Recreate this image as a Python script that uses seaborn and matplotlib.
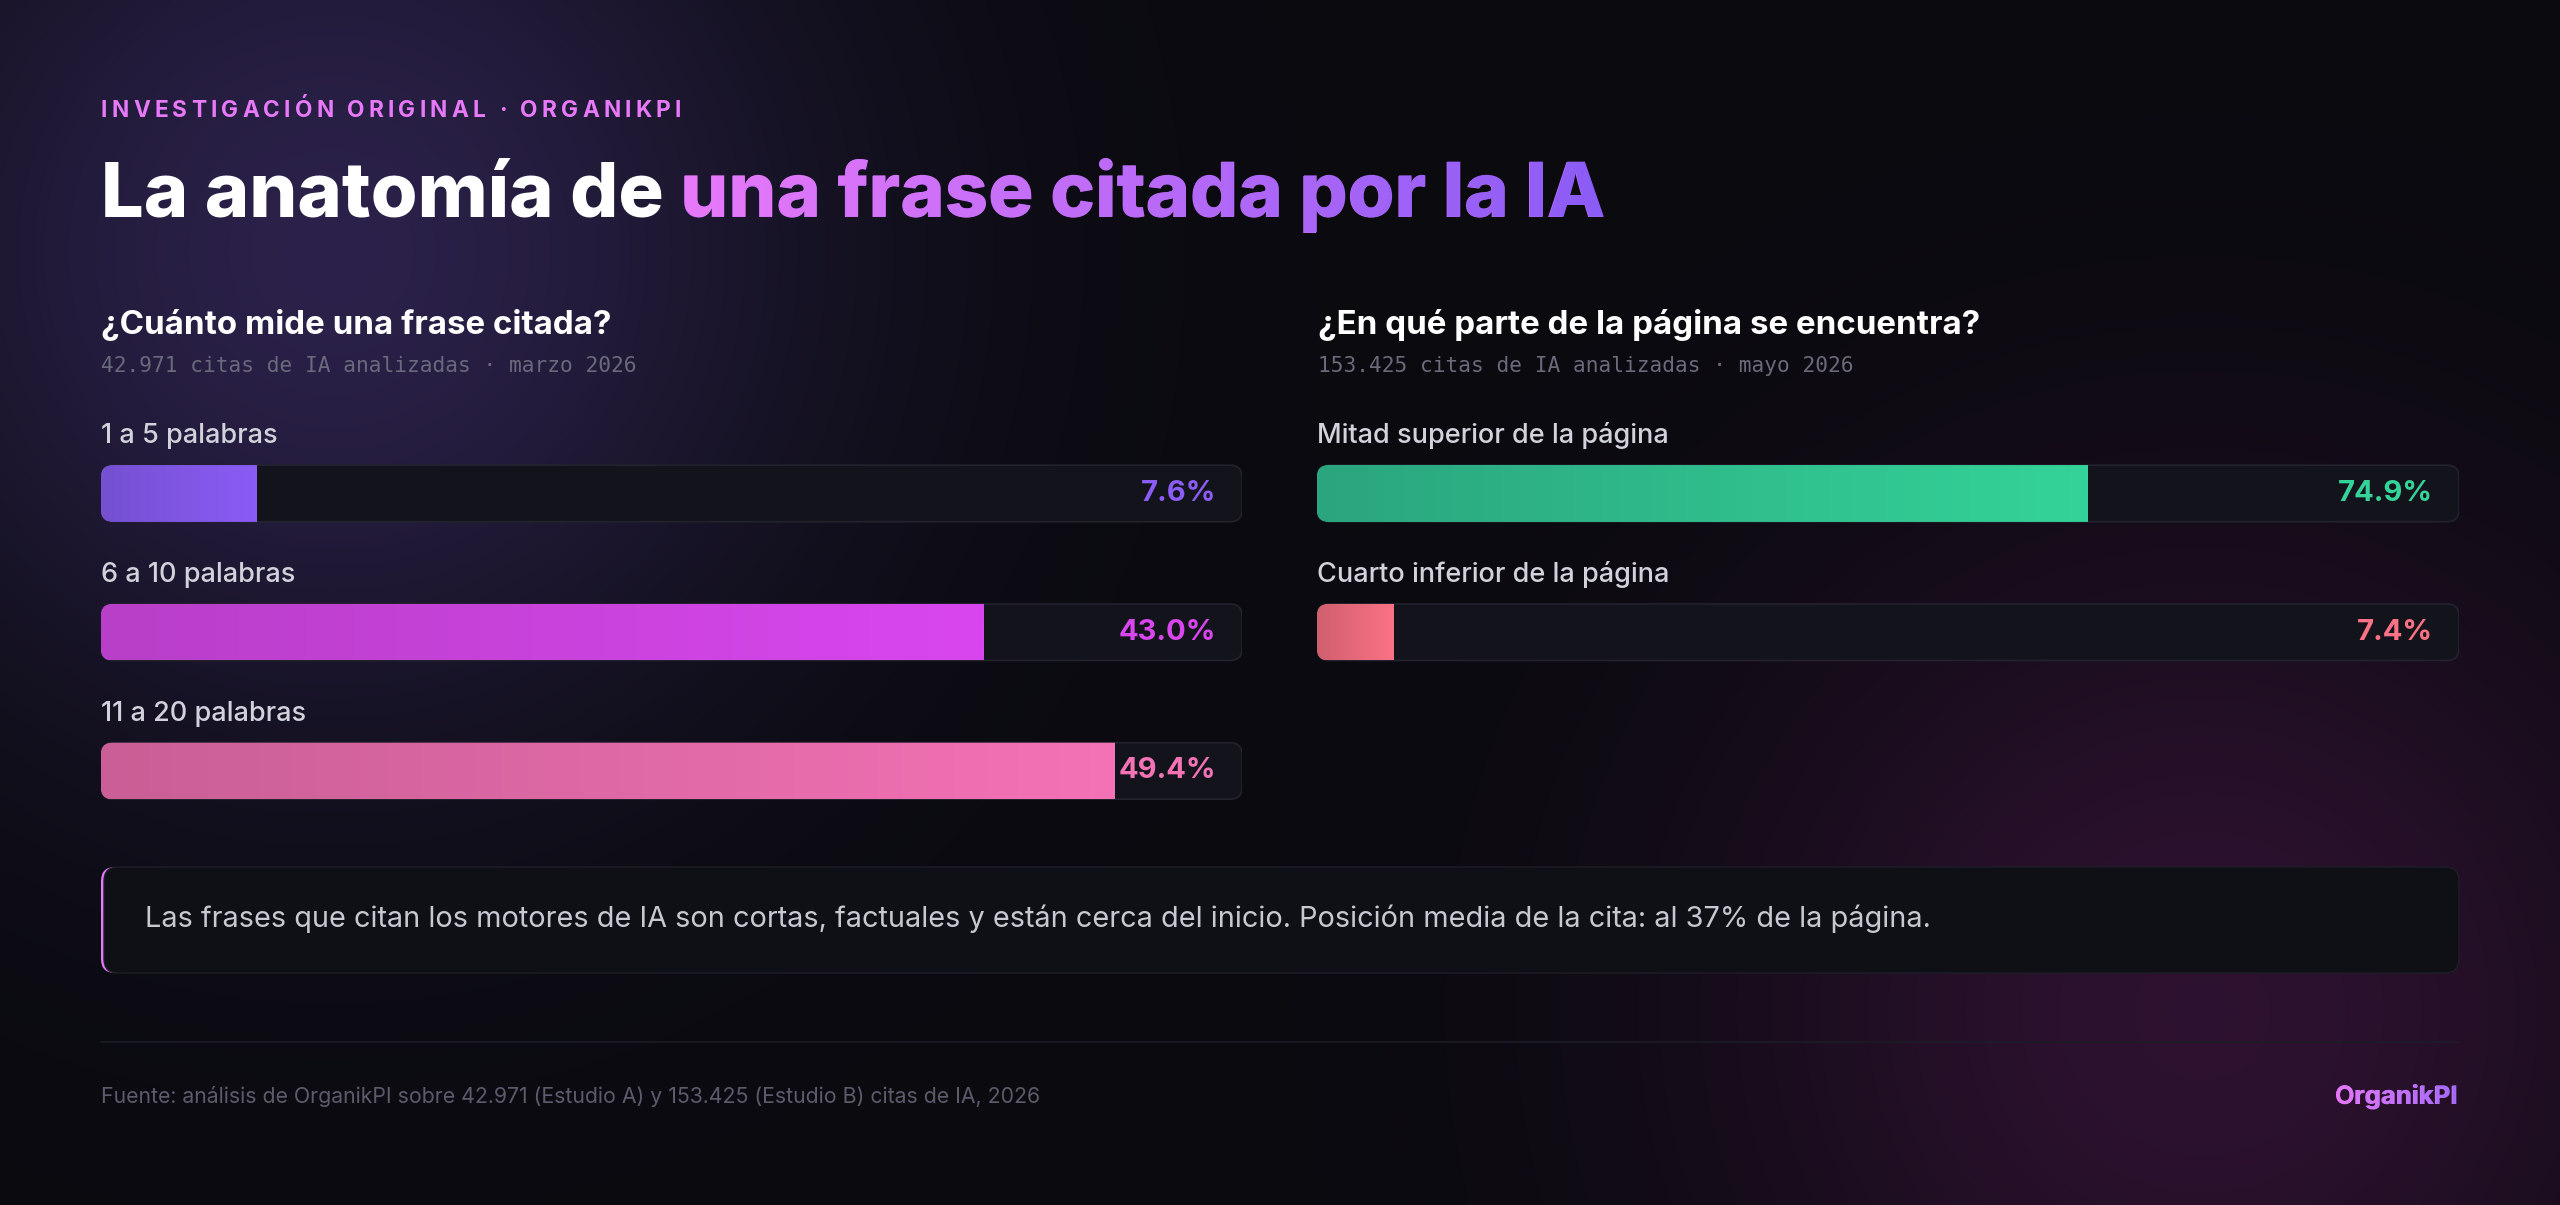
import numpy as np
import matplotlib
matplotlib.use("Agg")
import matplotlib.pyplot as plt
import seaborn as sns
from matplotlib.patches import FancyBboxPatch, PathPatch
from matplotlib.textpath import TextPath
from matplotlib.font_manager import FontProperties
from matplotlib.colors import to_rgb
from matplotlib.transforms import blended_transform_factory

W, H = 2560, 1205
DPI = 100

kicker = "INVESTIGACIÓN ORIGINAL · ORGANIKPI"
title_plain = "La anatomía de"
title_accent = "una frase citada por la IA"

length_title = "¿Cuánto mide una frase citada?"
length_note = "42.971 citas de IA analizadas · marzo 2026"
length_labels = ["1 a 5 palabras", "6 a 10 palabras", "11 a 20 palabras"]
length_values = [7.6, 43.0, 49.4]
length_colors = ["#8b5cf6", "#d946ef", "#f472b6"]
length_start = ["#7550d0", "#b83fc8", "#c95f96"]
length_max = 55.6

position_title = "¿En qué parte de la página se encuentra?"
position_note = "153.425 citas de IA analizadas · mayo 2026"
position_labels = ["Mitad superior de la página", "Cuarto inferior de la página"]
position_values = [74.9, 7.4]
position_colors = ["#34d399", "#fb7185"]
position_start = ["#2ba57e", "#d0606e"]
position_max = 111.0

callout = ("Las frases que citan los motores de IA son cortas, factuales y están cerca del inicio. "
           "Posición media de la cita: al 37% de la página.")
source = "Fuente: análisis de OrganikPI sobre 42.971 (Estudio A) y 153.425 (Estudio B) citas de IA, 2026"
brand = "OrganikPI"

sns.set_style("white")
plt.rcParams["font.family"] = ["Inter", "DejaVu Sans"]

fig = plt.figure(figsize=(W / DPI, H / DPI), dpi=DPI)
fig.patch.set_facecolor("#0a0a0f")

# full-figure axes in pixel units (y up) for background and free text
bg = fig.add_axes([0, 0, 1, 1])
bg.axis("off")

yy, xx = np.mgrid[0:H:5, 0:W:5]


def glow(cx, cy, sigma, rgb):
    d2 = (xx - cx) ** 2 + (yy - cy) ** 2
    return np.exp(-d2 / (2 * sigma ** 2))[..., None] * np.array(rgb)


sky = np.zeros(xx.shape + (3,)) + np.array(to_rgb("#0a0a0f"))
sky = sky + glow(330, 250, 340, (0.13, 0.09, 0.23)) + glow(2200, 1010, 340, (0.14, 0.03, 0.13))
bg.imshow(np.clip(sky, 0, 1), extent=[0, W, 0, H], aspect="auto", interpolation="bilinear", zorder=0)
bg.set_xlim(0, W)
bg.set_ylim(0, H)

renderer = fig.canvas.get_renderer()


def text_width(s, prop):
    return renderer.get_text_width_height_descent(s, prop, ismath=False)[0]


def gradient_text(x, y, s, size, weight, c0, c1, ha="left"):
    mid = tuple((np.array(to_rgb(c0)) + np.array(to_rgb(c1))) / 2)
    t = bg.text(x, y, s, fontsize=size, fontweight=weight, color=mid, ha=ha, va="baseline", zorder=5)
    left = t.get_window_extent(renderer).x0
    tp = TextPath((left, y), s, size=size * DPI / 72, prop=FontProperties(family="Inter", weight=weight))
    clip = PathPatch(tp, transform=bg.transData, fc="none", ec="none")
    bg.add_patch(clip)
    ext = tp.get_extents()
    grad = np.linspace(to_rgb(c0), to_rgb(c1), 256)[None, :, :]
    im = bg.imshow(grad, extent=[ext.x0 - 2, ext.x1 + 2, ext.y0 - 2, ext.y1 + 2], aspect="auto",
                   interpolation="bilinear", zorder=6)
    im.set_clip_path(clip)
    bg.set_xlim(0, W)
    bg.set_ylim(0, H)
    return t


def tracked_text(x, y, s, size, weight, color, total):
    # letter-spaced caps: place each glyph at its natural advance plus even tracking
    prop = FontProperties(family="Inter", weight=weight, size=size)
    ref = text_width("H", prop)
    natural = text_width(s, prop)
    track = (total - natural) / (len(s) - 1)
    for i, ch in enumerate(s):
        adv = text_width(s[:i] + "H", prop) - ref if i else 0
        bg.text(x + adv + i * track, y, ch, fontproperties=prop, color=color, va="baseline")


# header
tracked_text(101, H - 117, kicker, 16.3, "bold", "#e879f9", 580)
t1 = bg.text(101, H - 216.7, title_plain, fontsize=54.5, fontweight="heavy", color="white", va="baseline")
space = text_width("a a", t1.get_fontproperties()) - text_width("aa", t1.get_fontproperties())
x2 = t1.get_window_extent(renderer).x1 + space
gradient_text(x2, H - 216.7, title_accent, 54.5, "heavy", "#e879f9", "#8b5cf6")

# panel headings
for px, head, note in [(101, length_title, length_note), (1317.7, position_title, position_note)]:
    bg.text(px, H - 334, head, fontsize=23.8, fontweight="bold", color="white", va="baseline")
    bg.text(px, H - 371.7, note, fontsize=15.2, family="DejaVu Sans Mono", color="#6a6a7c", va="baseline")

STEP = 138.75
BAR_W = 56.5 / STEP
TOP = 424.1


def panel(x0, x1, labels, values, colors, starts, vmax):
    n = len(values)
    width_px = x1 - x0
    bottom = TOP + n * STEP
    ax = fig.add_axes([x0 / W, 1 - bottom / H, width_px / W, (bottom - TOP) / H])
    sns.barplot(x=values, y=labels, hue=labels, palette=colors, orient="h", width=BAR_W,
                saturation=1, legend=False, ax=ax, zorder=2, linewidth=0, edgecolor="none")
    bars = list(ax.patches)
    xpp = vmax / width_px
    ypp = 1 / STEP
    blend = blended_transform_factory(ax.transAxes, ax.transData)
    for i, (bar, lab, val, c0, c1) in enumerate(zip(bars, labels, values, starts, colors)):
        track = FancyBboxPatch((0, i - BAR_W / 2), vmax, BAR_W,
                               boxstyle=f"round,pad=0,rounding_size={12 * xpp}",
                               mutation_aspect=ypp / xpp, fc="#13131b", ec="#23232e", lw=1.2, zorder=1)
        ax.add_patch(track)
        bar.set_clip_path(track)
        grad = np.linspace(to_rgb(c0), to_rgb(c1), 256)[None, :, :]
        bx, by, bw, bh = bar.get_x(), bar.get_y(), bar.get_width(), bar.get_height()
        im = ax.imshow(grad, extent=[bx, bx + bw, by + bh, by], aspect="auto",
                       interpolation="bilinear", zorder=3)
        im.set_clip_path(track)
        ax.text(0, i - 0.362, lab, fontsize=19.5, fontweight="medium", color="#d2d2dc", va="baseline", ha="left")
        ax.text(1 - 26 / width_px, i, f"{val:.1f}%", transform=blend, fontsize=21, fontweight="bold",
                color=c1, ha="right", va="center", zorder=4)
    ax.set_xlim(0, vmax)
    ax.set_ylim(n - 0.5, -0.5)
    ax.axis("off")
    return ax


panel(101, 1242, length_labels, length_values, length_colors, length_start, length_max)
panel(1317, 2459, position_labels, position_values, position_colors, position_start, position_max)

# callout box with pink left border
bg.add_patch(FancyBboxPatch((101, H - 973), 2358, 106, boxstyle="round,pad=0,rounding_size=14",
                            fc="#e879f9", ec="none", zorder=2))
bg.add_patch(FancyBboxPatch((104, H - 973), 2355, 106, boxstyle="round,pad=0,rounding_size=14",
                            fc="#0f0f16", ec="#1e1e28", lw=1, zorder=3))
bg.text(144.6, H - 927, callout, fontsize=20.8, color="#c8c8d2", va="baseline", zorder=4)

# footer
bg.plot([101, 2459], [H - 1042, H - 1042], color="#1c1c26", lw=1.2, zorder=2)
bg.text(101, H - 1102.7, source, fontsize=15.3, color="#5b5b6c", va="baseline")
gradient_text(2458, H - 1104, brand, 18.5, "bold", "#e879f9", "#a06af7", ha="right")

fig.savefig("out.png", dpi=DPI, facecolor=fig.get_facecolor())
